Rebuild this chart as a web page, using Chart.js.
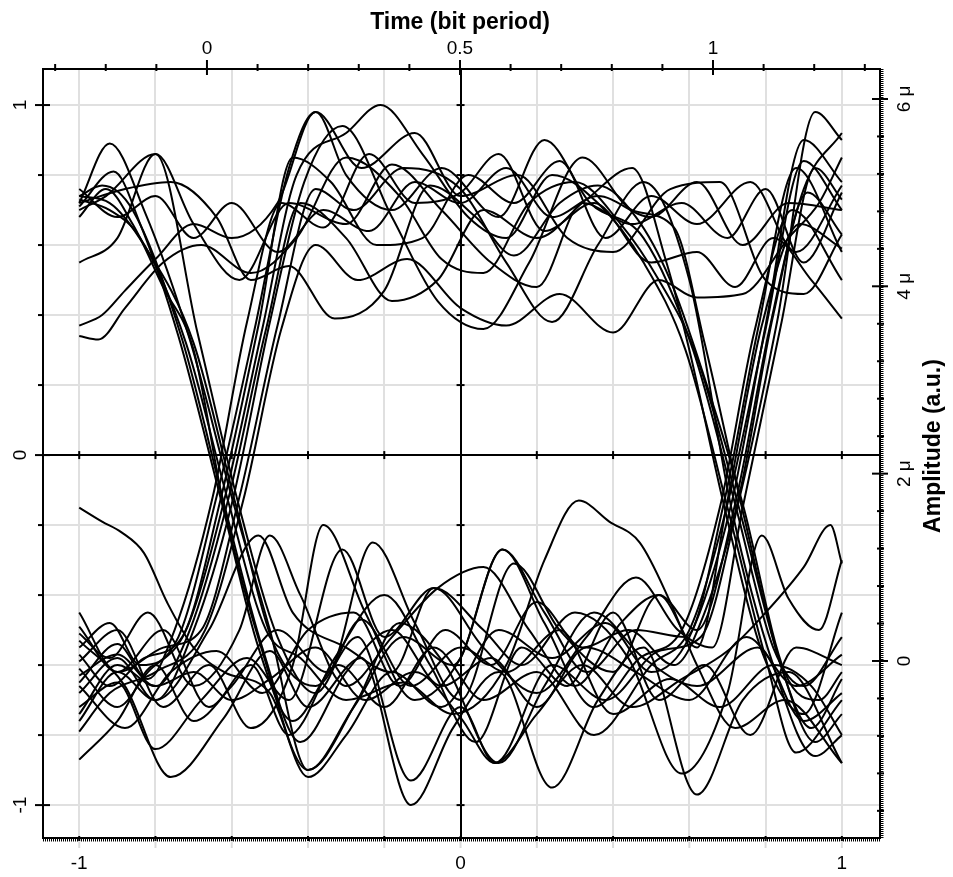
<!DOCTYPE html>
<html lang="en">
<head>
  <meta charset="UTF-8">
  <title>Eye diagram</title>
  <script src="https://cdn.jsdelivr.net/npm/chart.js"></script>
  <style>
    body {
      margin: 0;
      background-color: #fff;
      overflow: hidden;
    }
    #eyeChart {
      display: block;
    }
  </style>
</head>
<body>

<canvas id="eyeChart" width="953" height="877"></canvas>

<script>
  // traces as [x, y] key points (bottom / left axes)
  const wave01 = [[-1,0.74],[-0.94,0.77],[-0.86,0.7],[-0.73,0.33],[-0.62,-0.14],[-0.52,-0.55],[-0.42,-0.82],[-0.3,-0.62],[-0.18,-0.5],[-0.05,-0.66],[0.08,-0.58],[0.2,-0.72],[0.33,-0.55],[0.46,-0.62],[0.6,-0.7],[0.75,-0.52],[0.88,-0.66],[1,-0.57]];
  const wave02 = [[-1,0.72],[-0.92,0.89],[-0.83,0.7],[-0.71,0.33],[-0.6,-0.12],[-0.5,-0.5],[-0.4,-0.9],[-0.27,-0.7],[-0.16,-0.48],[-0.04,-0.6],[0.1,-0.88],[0.22,-0.66],[0.35,-0.45],[0.48,-0.58],[0.62,-0.66],[0.78,-0.55],[0.9,-0.76],[1,-0.68]];
  const wave03 = [[-1,0.7],[-0.93,0.74],[-0.8,0.86],[-0.69,0.35],[-0.58,-0.15],[-0.48,-0.52],[-0.38,-0.68],[-0.26,-0.47],[-0.13,-0.66],[0,-0.55],[0.12,-0.62],[0.26,-0.5],[0.4,-0.74],[0.55,-0.64],[0.68,-0.72],[0.82,-0.6],[0.92,-0.66],[1,-0.8]];
  const wave04 = [[-1,0.73],[-0.92,0.7],[-0.84,0.62],[-0.72,0.32],[-0.61,-0.13],[-0.51,-0.5],[-0.42,-0.58],[-0.3,-0.7],[-0.15,-0.65],[-0.02,-0.74],[0.12,-0.6],[0.22,-0.3],[0.31,-0.13],[0.39,-0.19],[0.47,-0.25],[0.55,-0.42],[0.62,-0.6],[0.72,-0.78],[0.85,-0.7],[1,-0.88]];
  const wave05 = [[-1,0.71],[-0.91,0.81],[-0.84,0.66],[-0.74,0.34],[-0.63,-0.12],[-0.53,-0.55],[-0.44,-0.76],[-0.32,-0.6],[-0.2,-0.72],[-0.07,-0.55],[0.06,-0.7],[0.2,-0.62],[0.35,-0.8],[0.5,-0.6],[0.6,-0.5],[0.7,-0.14],[0.8,0.36],[0.9,0.84],[1,0.7]];
  const wave06 = [[-1,0.74],[-0.92,0.72],[-0.83,0.6],[-0.7,0.32],[-0.59,-0.14],[-0.49,-0.54],[-0.38,-0.66],[-0.27,-0.52],[-0.13,-0.93],[0,-0.72],[0.09,-0.88],[0.24,-0.6],[0.38,-0.7],[0.52,-0.56],[0.63,-0.52],[0.73,-0.13],[0.83,0.38],[0.93,0.98],[1,0.9]];
  const wave07 = [[-1,0.68],[-0.93,0.76],[-0.86,0.66],[-0.78,0.48],[-0.7,0.3],[-0.62,-0.15],[-0.52,-0.56],[-0.4,-0.9],[-0.28,-0.72],[-0.15,-0.52],[-0.02,-0.6],[0.11,-0.27],[0.22,-0.45],[0.33,-0.62],[0.46,-0.5],[0.59,-0.52],[0.69,-0.14],[0.78,0.36],[0.88,0.82],[1,0.58]];
  const wave08 = [[-1,0.37],[-0.94,0.4],[-0.88,0.47],[-0.8,0.56],[-0.7,0.66],[-0.6,0.62],[-0.48,0.72],[-0.38,0.98],[-0.26,0.82],[-0.12,0.92],[0,0.74],[0.15,0.8],[0.28,0.62],[0.4,0.58],[0.55,0.76],[0.68,0.78],[0.8,0.5],[0.9,0.46],[1,0.63]];
  const wave09 = [[-1,0.55],[-0.9,0.62],[-0.8,0.86],[-0.7,0.66],[-0.58,0.5],[-0.45,0.72],[-0.3,0.66],[-0.18,0.83],[-0.05,0.7],[0.08,0.55],[0.2,0.48],[0.32,0.72],[0.45,0.66],[0.58,0.72],[0.7,0.62],[0.8,0.76],[0.9,0.55],[1,0.75]];
  const wave10 = [[-1,0.34],[-0.95,0.33],[-0.88,0.42],[-0.78,0.55],[-0.68,0.6],[-0.55,0.52],[-0.43,0.62],[-0.3,0.85],[-0.16,0.74],[-0.05,0.56],[0.06,0.52],[0.18,0.72],[0.3,0.78],[0.42,0.66],[0.52,0.5],[0.62,0.28],[0.73,-0.15],[0.84,-0.6],[0.93,-0.82],[1,-0.74]];
  const wave11 = [[-1,0.72],[-0.88,0.76],[-0.76,0.78],[-0.64,0.68],[-0.55,0.5],[-0.45,0.54],[-0.33,0.39],[-0.2,0.47],[-0.08,0.77],[0.04,0.68],[0.14,0.57],[0.26,0.72],[0.36,0.77],[0.46,0.68],[0.55,0.5],[0.64,0.22],[0.74,-0.14],[0.85,-0.62],[0.94,-0.7],[1,-0.62]];
  const wave12 = [[-1,-0.55],[-0.92,-0.48],[-0.84,-0.6],[-0.74,-0.52],[-0.64,-0.12],[-0.54,0.36],[-0.45,0.82],[-0.38,0.98],[-0.3,0.8],[-0.18,0.7],[-0.05,0.82],[0.1,0.68],[0.22,0.9],[0.34,0.72],[0.48,0.62],[0.61,0.3],[0.72,-0.14],[0.82,-0.55],[0.9,-0.66],[1,-0.52]];
  const wave13 = [[-1,-0.61],[-0.9,-0.72],[-0.82,-0.62],[-0.72,-0.5],[-0.62,-0.13],[-0.52,0.36],[-0.43,0.8],[-0.3,0.92],[-0.21,1.0],[-0.1,0.86],[0.02,0.68],[0.12,0.62],[0.24,0.8],[0.36,0.72],[0.48,0.55],[0.59,0.3],[0.7,-0.15],[0.8,-0.58],[0.88,-0.85],[1,-0.7]];
  const wave14 = [[-1,-0.68],[-0.9,-0.58],[-0.8,-0.7],[-0.7,-0.5],[-0.6,-0.14],[-0.5,0.38],[-0.41,0.78],[-0.31,0.94],[-0.18,0.68],[-0.06,0.44],[0.06,0.36],[0.18,0.55],[0.32,0.85],[0.45,0.7],[0.56,0.65],[0.64,0.32],[0.74,-0.16],[0.84,-0.6],[0.92,-0.78],[1,-0.64]];
  const wave15 = [[-1,-0.49],[-0.9,-0.62],[-0.78,-0.55],[-0.68,-0.5],[-0.58,-0.12],[-0.48,0.37],[-0.38,0.76],[-0.28,0.7],[-0.15,0.82],[0,0.76],[0.12,0.55],[0.24,0.38],[0.36,0.6],[0.48,0.78],[0.6,0.5],[0.71,-0.15],[0.82,-0.6],[0.93,-0.86],[1,-0.8]];
  const wave16 = [[-1,-0.74],[-0.9,-0.6],[-0.8,-0.66],[-0.71,-0.5],[-0.61,-0.13],[-0.51,0.36],[-0.42,0.72],[-0.3,0.62],[-0.18,0.44],[-0.06,0.5],[0.06,0.7],[0.2,0.62],[0.33,0.73],[0.45,0.82],[0.54,0.55],[0.6,0.3],[0.69,-0.14],[0.79,-0.56],[0.9,-0.74],[1,-0.45]];
  const wave17 = [[-1,-0.57],[-0.92,-0.66],[-0.83,-0.58],[-0.73,-0.52],[-0.63,-0.13],[-0.53,0.37],[-0.44,0.85],[-0.34,0.78],[-0.22,0.6],[-0.1,0.62],[0.02,0.8],[0.14,0.72],[0.26,0.84],[0.38,0.62],[0.5,0.74],[0.62,0.66],[0.76,0.78],[0.88,0.58],[1,0.77]];
  const wave18 = [[-1,-0.65],[-0.9,-0.54],[-0.82,-0.64],[-0.75,-0.5],[-0.65,-0.12],[-0.56,0.38],[-0.47,0.72],[-0.36,0.65],[-0.24,0.86],[-0.12,0.72],[0,0.75],[0.1,0.86],[0.22,0.64],[0.35,0.72],[0.5,0.55],[0.62,0.58],[0.72,0.48],[0.82,0.62],[0.92,0.5],[1,0.39]];
  const wave19 = [[-1,-0.79],[-0.92,-0.68],[-0.8,-0.62],[-0.67,-0.5],[-0.57,-0.13],[-0.47,0.36],[-0.38,0.6],[-0.27,0.5],[-0.14,0.56],[0,0.42],[0.12,0.37],[0.26,0.46],[0.4,0.35],[0.52,0.5],[0.62,0.45],[0.74,0.46],[0.86,0.62],[0.94,0.72],[1,0.85]];
  const wave20 = [[-1,-0.15],[-0.94,-0.19],[-0.89,-0.22],[-0.83,-0.28],[-0.77,-0.42],[-0.7,-0.55],[-0.62,-0.62],[-0.5,-0.68],[-0.4,-0.92],[-0.3,-0.8],[-0.18,-0.62],[-0.05,-0.72],[0.1,-0.5],[0.24,-0.58],[0.38,-0.48],[0.5,-0.62],[0.6,-0.52],[0.71,-0.14],[0.8,0.37],[0.9,0.9],[1,0.78]];
  const wave21 = [[-1,-0.51],[-0.92,-0.58],[-0.82,-0.45],[-0.7,-0.66],[-0.58,-0.5],[-0.5,-0.23],[-0.42,-0.4],[-0.3,-0.66],[-0.18,-0.52],[-0.06,-0.38],[0.06,-0.32],[0.18,-0.5],[0.3,-0.66],[0.42,-0.48],[0.52,-0.4],[0.62,-0.5],[0.72,-0.14],[0.81,0.36],[0.9,0.76],[1,0.92]];
  const wave22 = [[-1,-0.59],[-0.9,-0.5],[-0.78,-0.72],[-0.66,-0.6],[-0.55,-0.78],[-0.44,-0.6],[-0.36,-0.2],[-0.25,-0.45],[-0.12,-0.7],[0,-0.58],[0.11,-0.27],[0.22,-0.48],[0.35,-0.72],[0.47,-0.58],[0.58,-0.5],[0.68,-0.15],[0.77,0.35],[0.87,0.7],[1,0.5]];
  const wave23 = [[-1,-0.87],[-0.9,-0.76],[-0.8,-0.6],[-0.7,-0.76],[-0.6,-0.66],[-0.48,-0.5],[-0.35,-0.62],[-0.23,-0.25],[-0.12,-0.48],[0,-0.7],[0.14,-0.31],[0.26,-0.5],[0.4,-0.62],[0.52,-0.4],[0.62,-0.55],[0.7,-0.13],[0.79,0.37],[0.89,0.66],[1,0.59]];
  const wave24 = [[-1,-0.72],[-0.9,-0.65],[-0.8,-0.84],[-0.68,-0.7],[-0.56,-0.58],[-0.45,-0.7],[-0.31,-0.27],[-0.2,-0.52],[-0.07,-0.38],[0.06,-0.55],[0.2,-0.68],[0.33,-0.52],[0.46,-0.35],[0.57,-0.5],[0.66,-0.55],[0.74,-0.15],[0.84,0.37],[0.93,0.82],[1,0.73]];
  const wave25 = [[-1,-0.53],[-0.88,-0.66],[-0.76,-0.92],[-0.62,-0.75],[-0.5,-0.56],[-0.4,-0.72],[-0.26,-0.58],[-0.13,-1.0],[-0.02,-0.78],[0.1,-0.62],[0.24,-0.95],[0.36,-0.7],[0.48,-0.55],[0.62,-0.97],[0.74,-0.7],[0.86,-0.62],[1,-0.88]];
  const wave26 = [[-1,-0.76],[-0.9,-0.62],[-0.8,-0.7],[-0.66,-0.5],[-0.53,-0.23],[-0.44,-0.45],[-0.3,-0.55],[-0.18,-0.62],[-0.07,-0.38],[0.06,-0.5],[0.16,-0.6],[0.3,-0.45],[0.44,-0.58],[0.58,-0.91],[0.7,-0.68],[0.79,-0.23],[0.86,-0.41],[0.94,-0.5],[1,-0.3]];
  const wave27 = [[-1,-0.63],[-0.9,-0.57],[-0.8,-0.66],[-0.7,-0.62],[-0.6,-0.7],[-0.5,-0.64],[-0.38,-0.55],[-0.25,-0.7],[-0.12,-0.62],[0,-0.75],[0.09,-0.88],[0.2,-0.74],[0.32,-0.6],[0.45,-0.72],[0.58,-0.64],[0.7,-0.56],[0.8,-0.45],[0.9,-0.32],[0.97,-0.2],[1,-0.31]];
  const wave28 = [[-1,-0.45],[-0.9,-0.62],[-0.78,-0.5],[-0.66,-0.72],[-0.55,-0.6],[-0.45,-0.8],[-0.33,-0.58],[-0.2,-0.4],[-0.08,-0.6],[0.04,-0.82],[0.16,-0.55],[0.28,-0.66],[0.4,-0.45],[0.52,-0.7],[0.64,-0.6],[0.76,-0.8],[0.88,-0.55],[1,-0.6]];
  const wave29 = [[-1,0.76],[-0.9,0.68],[-0.8,0.74],[-0.7,0.62],[-0.6,0.72],[-0.48,0.58],[-0.36,0.7],[-0.24,0.64],[-0.12,0.78],[0,0.72],[0.12,0.82],[0.24,0.68],[0.36,0.74],[0.5,0.68],[0.62,0.78],[0.74,0.6],[0.86,0.72],[1,0.7]];
  const wave30 = [[-1,-0.66],[-0.88,-0.78],[-0.76,-0.62],[-0.64,-0.56],[-0.52,-0.68],[-0.4,-0.5],[-0.28,-0.45],[-0.16,-0.66],[-0.04,-0.5],[0.08,-0.6],[0.2,-0.42],[0.32,-0.55],[0.44,-0.5],[0.56,-0.6],[0.64,-0.45],[0.73,-0.12],[0.82,0.4],[0.91,0.75],[1,0.63]];

  const waves = [wave01, wave02, wave03, wave04, wave05, wave06, wave07, wave08, wave09, wave10,
    wave11, wave12, wave13, wave14, wave15, wave16, wave17, wave18, wave19, wave20,
    wave21, wave22, wave23, wave24, wave25, wave26, wave27, wave28, wave29, wave30];

  // axes
  const gridSteps = [-1, -0.8, -0.6, -0.4, -0.2, 0, 0.2, 0.4, 0.6, 0.8, 1];
  const bottomLabels = [-1, 0, 1];
  const leftLabels = [-1, 0, 1];
  const topLabels = [0, 0.5, 1];
  const topMinor = [-0.3, -0.2, -0.1, 0.1, 0.2, 0.3, 0.4, 0.6, 0.7, 0.8, 0.9, 1.1, 1.2, 1.3];
  const rightLabels = [0, 2, 4, 6];
  const rightMinor = [-1.6, -1.2, -0.8, -0.4, 0.4, 0.8, 1.2, 1.6, 2.4, 2.8, 3.2, 3.6, 4.4, 4.8, 5.2, 5.6, 6.0];

  const FONT = "'Liberation Sans', Arial, sans-serif";

  function line(ctx, x1, y1, x2, y2) {
    ctx.beginPath();
    ctx.moveTo(x1, y1);
    ctx.lineTo(x2, y2);
    ctx.stroke();
  }

  function upText(ctx, text, x, y, font) {
    ctx.save();
    ctx.translate(x, y);
    ctx.rotate(-Math.PI / 2);
    ctx.font = font;
    ctx.textAlign = 'center';
    ctx.textBaseline = 'middle';
    ctx.fillText(text, 0, 0);
    ctx.restore();
  }

  // tick marks, rotated labels and titles
  const frameDecor = {
    id: 'frameDecor',
    afterDraw(chart) {
      const { ctx, chartArea: a, scales } = chart;
      const xs = scales.x, ys = scales.y, xt = scales.xTop, yr = scales.yRight;
      ctx.save();
      ctx.strokeStyle = '#000';
      ctx.fillStyle = '#000';
      ctx.lineWidth = 2;

      // left axis
      gridSteps.forEach(v => {
        const py = ys.getPixelForValue(v);
        if (leftLabels.includes(v)) line(ctx, a.left - 8, py, a.left + 7, py);
        else line(ctx, a.left - 5, py, a.left, py);
      });
      leftLabels.forEach(v => upText(ctx, String(v), 21, ys.getPixelForValue(v), '19px ' + FONT));

      // top axis
      topMinor.forEach(v => {
        const px = xt.getPixelForValue(v);
        line(ctx, px, a.top - 5, px, a.top + 2);
      });
      topLabels.forEach(v => {
        const px = xt.getPixelForValue(v);
        line(ctx, px, a.top - 9, px, a.top + 6);
      });

      // right axis
      ctx.save();
      ctx.lineWidth = 3;
      ctx.setLineDash([1, 1]);
      line(ctx, a.right + 2, a.top, a.right + 2, a.bottom);
      ctx.restore();
      rightMinor.forEach(v => {
        const py = yr.getPixelForValue(v);
        line(ctx, a.right - 3, py, a.right + 4, py);
      });
      rightLabels.forEach(v => {
        const py = yr.getPixelForValue(v);
        line(ctx, a.right - 8, py, a.right + 8, py);
        upText(ctx, v === 0 ? '0' : v + ' μ', 905, py, '19px ' + FONT);
      });

      // bottom axis
      ctx.save();
      ctx.lineWidth = 3;
      ctx.setLineDash([1, 1]);
      line(ctx, a.left, a.bottom + 2, a.right, a.bottom + 2);
      ctx.restore();
      gridSteps.forEach(v => {
        const px = xs.getPixelForValue(v);
        ctx.save();
        ctx.strokeStyle = '#dcdcdc';
        line(ctx, px, a.bottom + 3, px, a.bottom + 10);
        ctx.restore();
        line(ctx, px, a.bottom - 2, px, a.bottom + 3);
      });

      // small ticks on the zero lines
      const x0 = xs.getPixelForValue(0), y0 = ys.getPixelForValue(0);
      gridSteps.forEach(v => {
        if (v === 0) return;
        const px = xs.getPixelForValue(v);
        line(ctx, px, y0 - 4, px, y0 + 4);
        const py = ys.getPixelForValue(v);
        line(ctx, x0 - 4, py, x0 + 4, py);
      });

      // titles
      ctx.font = 'bold 23px ' + FONT;
      ctx.textAlign = 'center';
      ctx.textBaseline = 'middle';
      ctx.fillText('Time (bit period)', 460, 23);
      upText(ctx, 'Amplitude (a.u.)', 934, 446, 'bold 23px ' + FONT);
      ctx.restore();
    }
  };

  const datasets = waves.map(w => ({
    data: w.map(p => ({ x: p[0], y: p[1] })),
    borderColor: '#000',
    borderWidth: 2,
    pointRadius: 0,
    fill: false,
    cubicInterpolationMode: 'monotone'
  }));

  const gridColor = c => (c.tick && c.tick.value === 0 ? '#000' : '#e0e0e0');

  new Chart(document.getElementById('eyeChart'), {
    type: 'line',
    data: { datasets: datasets },
    plugins: [frameDecor],
    options: {
      responsive: false,
      animation: false,
      events: [],
      plugins: { legend: { display: false }, tooltip: { enabled: false } },
      layout: { padding: 0 },
      scales: {
        x: {
          type: 'linear',
          position: 'bottom',
          min: -1.095,
          max: 1.10,
          afterBuildTicks: s => { s.ticks = gridSteps.map(v => ({ value: v })); },
          afterFit: s => { s.height = 39; },
          grid: { color: gridColor, lineWidth: 2, drawTicks: false },
          border: { display: true, color: '#000', width: 2 },
          ticks: {
            padding: 14,
            color: '#000',
            font: { family: FONT, size: 19 },
            maxRotation: 0,
            callback: v => (bottomLabels.includes(v) ? String(v) : '')
          }
        },
        y: {
          type: 'linear',
          position: 'left',
          min: -1.094,
          max: 1.103,
          afterBuildTicks: s => { s.ticks = gridSteps.map(v => ({ value: v })); },
          afterFit: s => { s.width = 43; },
          grid: { color: gridColor, lineWidth: 2, drawTicks: false },
          border: { display: true, color: '#000', width: 2 },
          ticks: { display: false }
        },
        xTop: {
          type: 'linear',
          position: 'top',
          min: -0.324,
          max: 1.33,
          afterBuildTicks: s => { s.ticks = topLabels.map(v => ({ value: v })); },
          afterFit: s => { s.height = 69; },
          grid: { drawOnChartArea: false, drawTicks: false },
          border: { display: true, color: '#000', width: 2 },
          ticks: {
            padding: 9,
            color: '#000',
            font: { family: FONT, size: 19 },
            maxRotation: 0,
            callback: v => String(v)
          }
        },
        yRight: {
          type: 'linear',
          position: 'right',
          min: -1.89,
          max: 6.32,
          afterFit: s => { s.width = 73; },
          grid: { drawOnChartArea: false, drawTicks: false },
          border: { display: true, color: '#000', width: 2 },
          ticks: { display: false }
        }
      }
    }
  });
</script>

</body>
</html>
